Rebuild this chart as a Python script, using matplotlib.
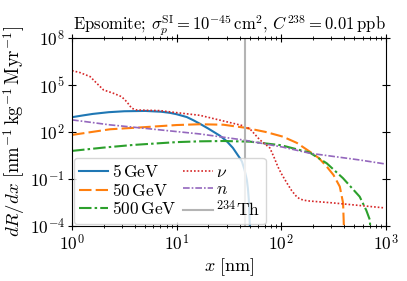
import numpy as np
import matplotlib
matplotlib.use("Agg")
import matplotlib.pyplot as plt
from matplotlib.ticker import LogLocator, NullLocator

plt.rcParams["font.family"] = "serif"
plt.rcParams["font.serif"] = ["cmr10", "DejaVu Serif"]
plt.rcParams["mathtext.fontset"] = "cm"
plt.rcParams["axes.formatter.use_mathtext"] = True
plt.rcParams["font.size"] = 12.5

# curves, as (x [nm], log10 dR/dx)
x_5 = [1.0, 1.26, 1.58, 2.24, 3.16, 5.0, 7.1, 8.6, 10.0, 12.5, 14.5, 16.7, 20.0, 25.9, 30.0, 34.5,
       40.0, 42.1, 44.5, 46.9, 48.0, 49.0, 50.1, 50.3]
ly_5 = [2.94, 3.05, 3.15, 3.26, 3.32, 3.34, 3.29, 3.22, 3.13, 2.95, 2.74, 2.52, 2.22, 1.76, 1.42, 0.98,
        0.35, 0.11, -0.4, -1.06, -1.6, -2.34, -4.0, -4.6]

x_50 = [1.0, 2.31, 4.8, 10.0, 16.7, 28.0, 44.9, 70.8, 103.5, 141.0, 187.5, 229.0, 272.0, 316.0, 363.0, 390.0, 396.0, 398.0]
ly_50 = [1.81, 2.17, 2.30, 2.44, 2.49, 2.46, 2.27, 2.0, 1.70, 1.30, 0.74, 0.33, -0.21, -0.75, -1.49, -2.53, -3.8, -4.6]

x_500 = [1.0, 2.0, 3.85, 10.0, 16.7, 28.0, 50.1, 100.0, 187.5, 272.0, 389.0, 562.0, 650.0, 702.0, 718.0]
ly_500 = [0.79, 1.0, 1.17, 1.35, 1.40, 1.42, 1.38, 1.15, 0.68, 0.0, -0.95, -2.13, -3.0, -3.6, -4.6]

x_nu = [1.0, 1.19, 1.49, 1.72, 2.0, 2.48, 2.98, 3.33, 3.72, 4.15, 6.9, 10.0, 16.7, 42.9, 50.1, 62.5,
        77.8, 85.1, 93.0, 100.0, 113.0, 125.9, 141.0, 151.0, 161.0, 178.0, 311.0, 977.0]
ly_nu = [5.91, 5.79, 5.53, 5.11, 4.68, 4.47, 4.25, 3.93, 3.51, 3.40, 3.36, 3.23, 3.06, 2.40, 2.20, 1.49,
         0.98, 0.40, -0.23, -0.65, -1.25, -1.75, -2.15, -2.28, -2.34, -2.40, -2.53, -2.85]

x_n = [1.0, 2.31, 4.8, 16.7, 43.0, 103.5, 187.5, 562.0, 977.0]
ly_n = [2.77, 2.45, 2.24, 1.87, 1.49, 1.03, 0.64, 0.21, -0.04]

x_th = 44.9

labels = [r"$5\,\mathrm{GeV}$", r"$50\,\mathrm{GeV}$", r"$500\,\mathrm{GeV}$",
          r"$\nu$", r"$n$", r"$^{234}\mathrm{Th}$"]

fig = plt.figure(figsize=(4.07, 2.81), dpi=100)
ax = fig.add_axes([0.177, 0.196, 0.771, 0.669])

l1, = ax.plot(x_5, 10 ** np.array(ly_5), color="#1f77b4", lw=1.5, ls="-")
l2, = ax.plot(x_50, 10 ** np.array(ly_50), color="#ff7f0e", lw=1.5, dashes=(6, 2))
l3, = ax.plot(x_500, 10 ** np.array(ly_500), color="#2ca02c", lw=1.5, dashes=(6, 1.5, 1.2, 1.5))
l4, = ax.plot(x_nu, 10 ** np.array(ly_nu), color="#d62728", lw=1.2, dashes=(1, 1.2))
l5, = ax.plot(x_n, 10 ** np.array(ly_n), color="#9467bd", lw=1.2, dashes=(4, 1.2, 1, 1.2))
l6 = ax.axvline(x_th, color="#b4b4b4", lw=1.5)

ax.set_xscale("log")
ax.set_yscale("log")
ax.set_xlim(1, 1e3)
ax.set_ylim(1e-4, 1e8)
ax.set_yticks([1e-4, 1e-1, 1e2, 1e5, 1e8])
ax.yaxis.set_minor_locator(NullLocator())
ax.xaxis.set_minor_locator(LogLocator(base=10, subs=np.arange(2, 10), numticks=20))
ax.tick_params(which="both", direction="inout", top=True, right=True, labelsize=12.5)
ax.tick_params(which="major", length=6, width=0.8, pad=2)
ax.tick_params(which="minor", length=3, width=0.6)

ax.set_title(r"Epsomite; $\sigma_p^{\rm SI} = 10^{-45}\,{\rm cm}^2$, $C^{238} = 0.01\,{\rm ppb}$",
             fontsize=12, pad=5)
ax.set_xlabel(r"$x\ [\mathrm{nm}]$", fontsize=13, labelpad=2)
ax.set_ylabel(r"$dR/dx\ [\mathrm{nm}^{-1}\,\mathrm{kg}^{-1}\,\mathrm{Myr}^{-1}]$", fontsize=13.5, labelpad=2)

ax.legend([l1, l2, l3, l4, l5, l6], labels, ncol=2, loc="lower left",
          borderaxespad=0.1, handlelength=1.7, columnspacing=0.4, borderpad=0.3,
          handletextpad=0.2, labelspacing=0.1, framealpha=0.8)

fig.savefig("out.png", dpi=100)
